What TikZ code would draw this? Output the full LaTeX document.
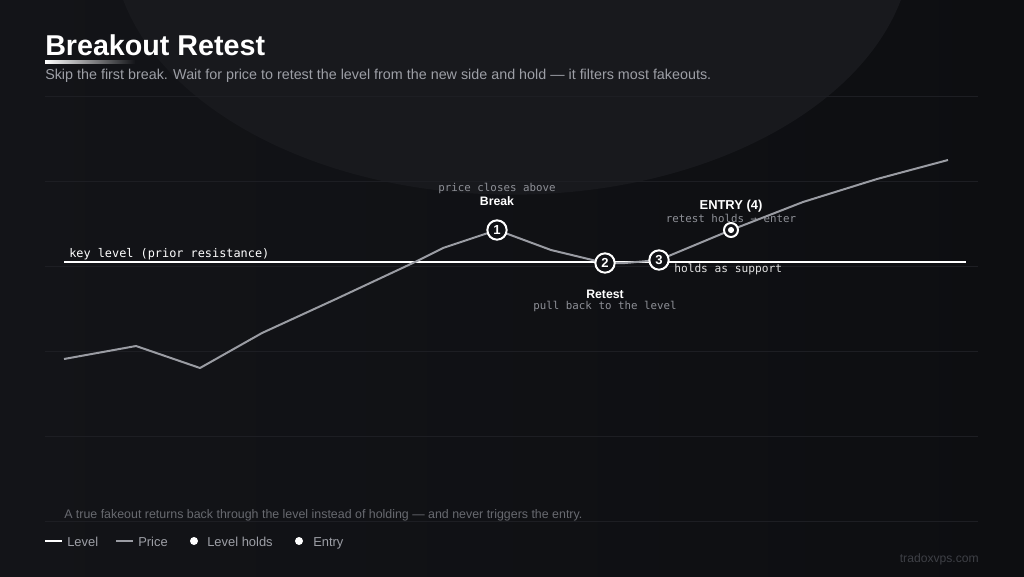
\documentclass[tikz,border=0pt]{standalone}
\usepackage{fontspec}
\setmainfont{Liberation Sans}
\setmonofont{DejaVu Sans Mono}
\usetikzlibrary{positioning, shapes.geometric}

\definecolor{bgdark}{HTML}{111216}
\definecolor{bgleft}{HTML}{131418}
\definecolor{bgright}{HTML}{0D0E11}
\definecolor{bgglow}{HTML}{18191D}
\definecolor{gridc}{HTML}{1D1E23}
\definecolor{pricec}{HTML}{9A9CA3}
\definecolor{monoc}{HTML}{8E9097}
\definecolor{subc}{HTML}{9D9FA6}
\definecolor{notec}{HTML}{686A70}
\definecolor{markc}{HTML}{3E4046}

\tikzset{
  marker/.style={circle, draw=white, line width=1.5pt, fill=bgdark, minimum size=14.5pt, inner sep=0pt, text=white, font=\bfseries\fontsize{9.8}{10}\selectfont},
  tag/.style={inner sep=0pt, anchor=base, text=white, font=\bfseries\fontsize{9.2}{10}\selectfont},
  note/.style={inner sep=0pt, anchor=base, text=monoc, font=\ttfamily\fontsize{8.1}{9}\selectfont},
  legtext/.style={inner sep=0pt, anchor=base west, text=subc, font=\fontsize{9.7}{11}\selectfont},
}

\begin{document}
\begin{tikzpicture}[x=0.75pt, y=-0.75pt]
% Background
\shade[left color=bgleft, right color=bgright] (0,0) rectangle (1024,576);
\begin{scope}
\clip (0,0) rectangle (1024,576);
\fill[bgglow] (512,-60) ellipse [x radius=300pt, y radius=191pt];
\end{scope}
\useasboundingbox (0,0) rectangle (1024,576);

% Title
\node[inner sep=0pt, anchor=base west, text=white, font=\bfseries\fontsize{21.5}{24}\selectfont] (title) at (45,55) {Breakout Retest};
\shade[left color=white, right color=bgleft] (45,60.5) rectangle (135,63.5);
\node[inner sep=0pt, anchor=base west, text=subc, font=\fontsize{10.75}{12}\selectfont] (sub) at (45,79) {Skip the first break. Wait for price to retest the level from the new side and hold — it filters most fakeouts.};

% Grid
\foreach \y in {96,181,266,351,436,521}
  \draw[gridc, line width=0.75pt] (45,\y) -- (978,\y);

% Key level
\coordinate (lvlA) at (64,262);
\coordinate (lvlB) at (966,262);
\draw[white, line width=1.8pt] (lvlA) -- (lvlB);
\node[inner sep=0pt, anchor=base west, text=white, font=\ttfamily\fontsize{8.9}{10}\selectfont] (keylbl) at (69,257) {key level (prior resistance)};

% Labels
\node[note] (brknote) at (497,191) {price closes above};
\node[tag] (brk) at (497,205) {Break};
\node[tag] (ret) at (605,298) {Retest};
\node[note] (retnote) at (605,309) {pull back to the level};
\node[tag, font=\bfseries\fontsize{9.7}{10}\selectfont] (ent) at (731,209) {ENTRY (4)};
\node[note] (entnote) at (731,222) {retest holds → enter};
\node[note, anchor=base west, text=white!88!black, font=\ttfamily\fontsize{8.4}{9}\selectfont] (hold) at (674,272) {holds as support};

% Price path
\coordinate (p0) at (64,359);
\coordinate (p1) at (136,346);
\coordinate (p2) at (200,368);
\coordinate (p3) at (262,333);
\coordinate (p4) at (336,299);
\coordinate (p5) at (415,262);
\coordinate (p6) at (443,248);
\coordinate (c1) at (497,230);
\coordinate (p7) at (551,250);
\coordinate (c2) at (605,263);
\coordinate (p8) at (625,263);
\coordinate (c3) at (659,260);
\coordinate (c4) at (731,230);
\coordinate (p9) at (803,202);
\coordinate (p10) at (877,179);
\coordinate (p11) at (948,160);
\draw[pricec, line width=1.5pt, line join=round] (p0) -- (p1) -- (p2) -- (p3) -- (p4) -- (p5) -- (p6) -- (c1) -- (p7) -- (c2) -- (p8) -- (c3) -- (c4) -- (p9) -- (p10) -- (p11);

% Markers
\node[marker] (m1) at (c1) {1};
\node[marker] (m2) at (c2) {2};
\node[marker] (m3) at (c3) {3};
\node[circle, draw=white, line width=1.5pt, fill=bgdark, minimum size=10.5pt, inner sep=0pt] (m4) at (c4) {};
\fill[white] (m4.center) circle [radius=2.3pt];

% Footnote
\node[inner sep=0pt, anchor=base west, text=notec, font=\fontsize{9.3}{11}\selectfont] (foot) at (64,518) {A true fakeout returns back through the level instead of holding — and never triggers the entry.};

% Legend
\coordinate (lg1a) at (45,541);
\coordinate (lg1b) at (62,541);
\coordinate (lg2a) at (116,541);
\coordinate (lg2b) at (133,541);
\draw[white, line width=1.8pt] (lg1a) -- (lg1b);
\node[legtext] (lgl) at (67,546) {Level};
\draw[pricec, line width=1.8pt] (lg2a) -- (lg2b);
\node[legtext] (lgp) at (138,546) {Price};
\node[circle, fill=white, minimum size=6pt, inner sep=0pt] (lgd1) at (194,541) {};
\node[legtext] (lgh) at (207,546) {Level holds};
\node[circle, fill=white, minimum size=6pt, inner sep=0pt] (lgd2) at (299,541) {};
\node[legtext] (lge) at (313,546) {Entry};

% Watermark
\node[inner sep=0pt, anchor=base east, text=markc, font=\fontsize{9.1}{10}\selectfont] (wm) at (979,562) {tradoxvps.com};
\end{tikzpicture}
\end{document}
